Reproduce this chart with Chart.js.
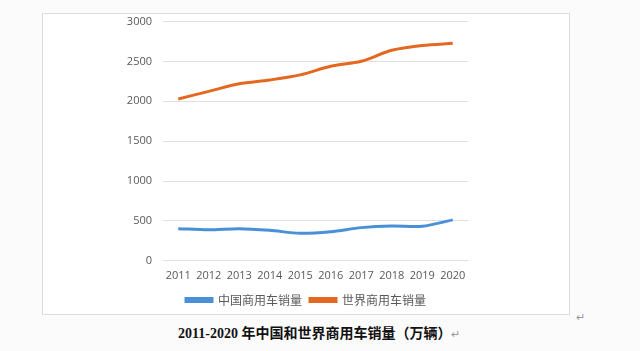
<!DOCTYPE html>
<html><head><meta charset="utf-8">
<script src="https://cdn.jsdelivr.net/npm/chart.js@4.4.0/dist/chart.umd.min.js"></script>
<style>
html,body{margin:0;padding:0;background:#fbfbfb;width:640px;height:351px;overflow:hidden;position:relative;font-family:"Noto Sans CJK SC","Open Sans",sans-serif;}
#box{position:absolute;left:42px;top:13px;width:526px;height:300px;border:1px solid #dcdcdc;background:#ffffff;}
#c{display:block;position:absolute;left:43px;top:4px;}
#cap{position:absolute;left:178px;top:322px;font-family:"Liberation Serif","Noto Sans CJK SC",serif;font-size:14px;color:#111;white-space:nowrap;font-weight:bold;}
#cap .cjk{font-family:"Noto Sans CJK SC",sans-serif;font-weight:bold;font-size:14px;}
.ret{color:#999;font-size:11px;font-weight:normal;}
#ret2{position:absolute;left:576px;top:308px;color:#999;font-size:11px;}
</style></head>
<body>
<div id="box"></div>
<canvas id="c" width="526" height="312"></canvas>
<div id="ret2">↵</div>
<div id="cap">2011-2020 <span class="cjk">年中国和世界商用车销量（万辆）</span><span class="ret">↵</span></div>
<script>
const years = ['2011','2012','2013','2014','2015','2016','2017','2018','2019','2020'];
const chinaSales = [403, 388, 403, 382, 345, 365, 416, 437, 432, 513];
const worldSales = [2030, 2125, 2220, 2268, 2332, 2440, 2502, 2640, 2700, 2728];
const seriesNames = ['中国商用车销量', '世界商用车销量'];
const yTicks = [0, 500, 1000, 1500, 2000, 2500, 3000];

new Chart(document.getElementById('c'), {
  type: 'line',
  data: {
    labels: years,
    datasets: [
      {label: seriesNames[0], data: chinaSales, borderColor:'#4a90d9', backgroundColor:'#4a90d9', borderWidth:3, pointRadius:0, tension:0.3, fill:false},
      {label: seriesNames[1], data: worldSales, borderColor:'#e2691f', backgroundColor:'#e2691f', borderWidth:3, pointRadius:0, tension:0.3, fill:false}
    ]
  },
  options: {
    responsive:false, animation:false,
    layout:{padding:{left:0,right:0,top:0,bottom:0}},
    plugins:{
      legend:{position:'bottom', labels:{boxWidth:26, boxHeight:3, color:'#595959', font:{size:12, family:'"Noto Sans CJK SC", sans-serif'}, padding:8}},
      tooltip:{enabled:false}
    },
    scales:{
      x:{offset:true, grid:{display:false}, border:{display:false}, afterFit:(s)=>{s.height+=4;},
         ticks:{color:'#595959', font:{size:11, family:'"Open Sans", sans-serif'}, maxRotation:0, padding:0}},
      y:{min:0, max:3000, afterBuildTicks:(s)=>{s.ticks = yTicks.map(v=>({value:v}));},
         afterFit:(s)=>{s.width=120;},
         grid:{color:'#e0e0e0', drawTicks:false}, border:{display:false},
         ticks:{color:'#595959', font:{size:11, family:'"Open Sans", sans-serif'}, padding:11, callback:(v)=>String(v)}},
      yR:{position:'right', display:true, afterFit:(s)=>{s.width=101;},
          grid:{display:false, drawTicks:false}, border:{display:false}, ticks:{display:false}}
    }
  }
});
</script>
</body></html>
